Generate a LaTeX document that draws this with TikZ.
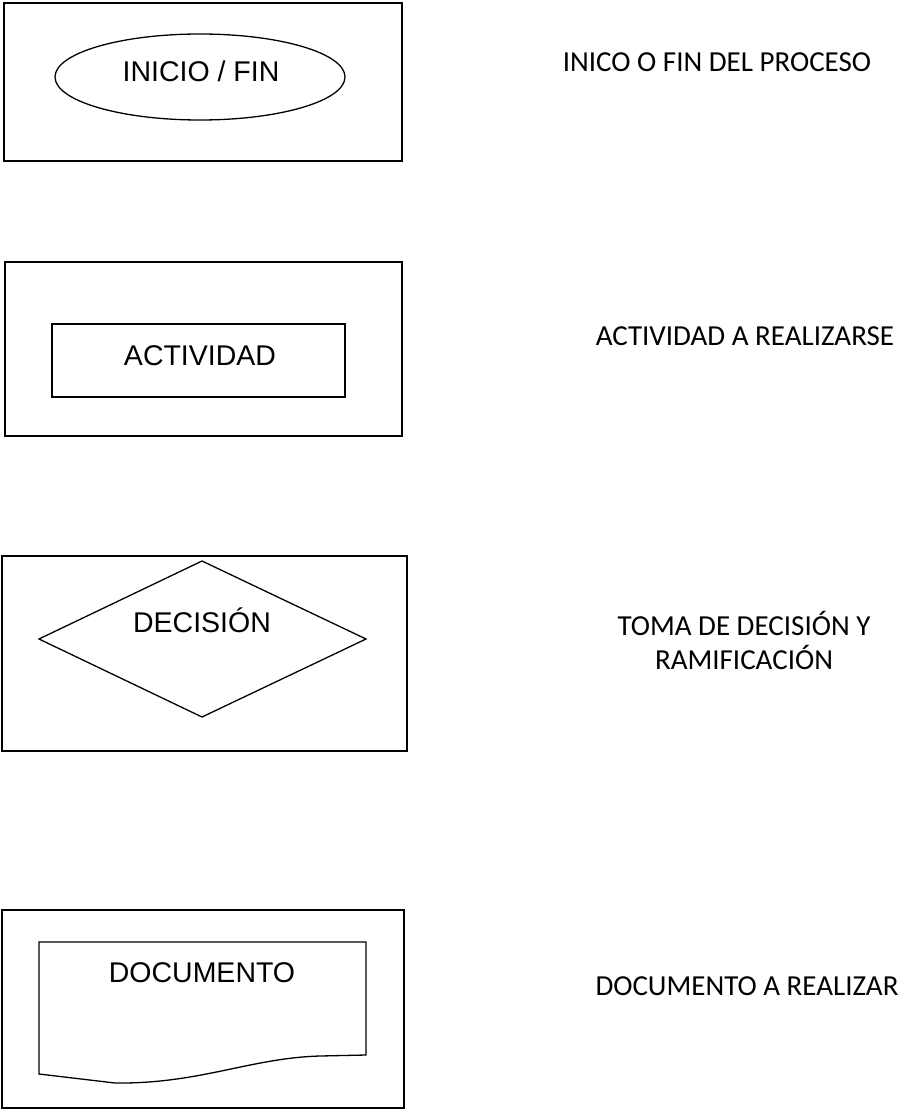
\documentclass[tikz,border=0pt]{standalone}
\usepackage{fontspec}
\setmainfont{Carlito}
\newfontfamily\arialf{Liberation Sans}
\usetikzlibrary{shapes.geometric}
\tikzset{
  frame/.style={draw=black, line width=1.4pt},
  shp/.style={draw=black, line width=1.3pt},
  shptext/.style={font=\arialf\fontsize{28.5}{32}\selectfont, inner sep=0pt, anchor=base},
  lbl/.style={font=\fontsize{29}{34}\selectfont, inner sep=0pt, anchor=base},
}
\begin{document}
\begin{tikzpicture}[x=1pt,y=-1pt]
\useasboundingbox (0,0) rectangle (900,1115);
% frames
\draw[frame] (4,3) rectangle (402,161);
\draw[frame] (5,262) rectangle (402,436);
\draw[frame] (2,556) rectangle (407,751);
\draw[frame] (2,910) rectangle (404,1108);
% shapes
\draw[shp] (200,77) ellipse [x radius=145, y radius=43];
\node[shptext] (inicio) at (201,82) {INICIO / FIN};
\draw[shp] (52,324) rectangle (345,397);
\node[shptext] (act) at (200,365) {ACTIVIDAD};
\draw[shp, line join=miter] (39,639) -- (202,561) -- (366,639) -- (202,717) -- cycle;
\node[shptext] (dec) at (202,632) {DECISIÓN};
\draw[shp] (39,1074) -- (39,942) -- (366,942) -- (366,1055) -- (320,1056)
  .. controls (250,1058) and (200,1084) .. (115,1083) -- cycle;
\node[shptext] (doc) at (202,982) {DOCUMENTO};
% labels
\node[lbl] (l1) at (717,72) {INICO O FIN DEL PROCESO};
\node[lbl] (l2) at (745,345) {ACTIVIDAD A REALIZARSE};
\node[lbl] (l3a) at (744,635) {TOMA DE DECISIÓN Y};
\node[lbl] (l3b) at (744,669) {RAMIFICACIÓN};
\node[lbl] (l4) at (747,995) {DOCUMENTO A REALIZAR};
\end{tikzpicture}
\end{document}
